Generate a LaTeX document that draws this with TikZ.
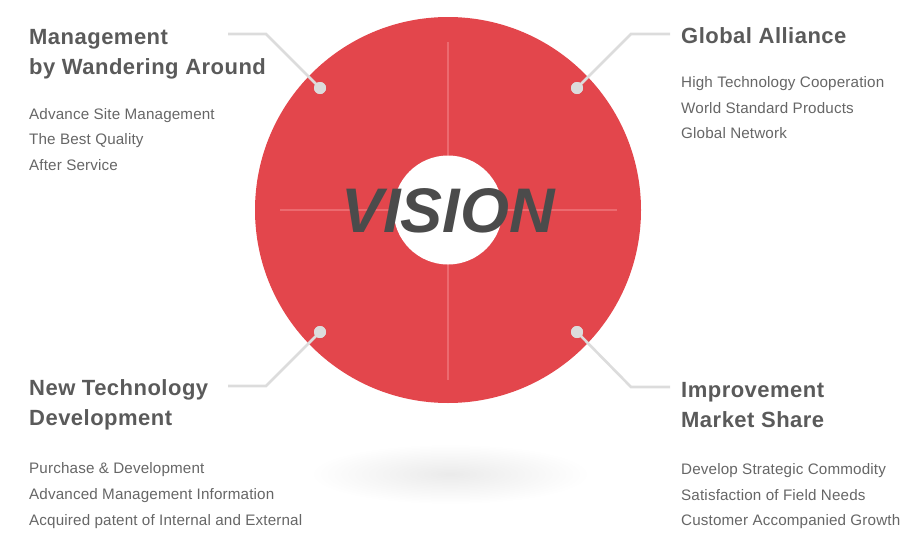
\documentclass[tikz,border=0pt]{standalone}
\usepackage{fontspec}
\setmainfont{Liberation Sans}
\usetikzlibrary{calc}
\definecolor{visred}{HTML}{E3464C}
\definecolor{crossred}{HTML}{EC6A6F}
\definecolor{dotgray}{HTML}{DCDCDC}
\definecolor{titlegray}{HTML}{5A5A5A}
\definecolor{itemgray}{HTML}{666666}
\definecolor{visgray}{HTML}{4B4B4B}
\tikzset{
  title/.style={anchor=base west, inner sep=0pt, font=\fontsize{22}{26}\selectfont\bfseries\addfontfeatures{LetterSpace=2.2}, text=titlegray},
  item/.style={anchor=base west, inner sep=0pt, font=\fontsize{15.2}{18}\selectfont\addfontfeatures{LetterSpace=1}, text=itemgray},
  dot/.style={circle, fill=dotgray, minimum size=12pt, inner sep=0pt},
  conn/.style={draw=dotgray, line width=2.6pt},
  cross/.style={draw=crossred, line width=1.2pt},
}
\begin{document}
\begin{tikzpicture}[x=1pt,y=-1pt]
\useasboundingbox (0,0) rectangle (900,541);
% shadow
\shade[inner color=black!8, outer color=white] (450,474) ellipse [x radius=140, y radius=30];
% big circle
\fill[visred] (448,210) circle [radius=193];
\draw[cross] (448,42) -- (448,380);
\draw[cross] (280,210) -- (617,210);
\node[circle, fill=white, minimum size=109pt, inner sep=0pt] (hole) at (448,210) {};
\node[anchor=base, inner sep=0pt, font=\fontsize{63}{63}\selectfont\bfseries\itshape, text=visgray] (vision) at (448,232) {VISION};
% dots
\node[dot] (d1) at (320,88) {};
\node[dot] (d2) at (577,88) {};
\node[dot] (d3) at (320,332) {};
\node[dot] (d4) at (577,332) {};
\coordinate (c1a) at (266,34); \coordinate (c1b) at (228,34);
\coordinate (c2a) at (631,34); \coordinate (c2b) at (670,34);
\coordinate (c3a) at (266,386); \coordinate (c3b) at (228,386);
\coordinate (c4a) at (631,387); \coordinate (c4b) at (670,387);
\draw[conn] (d1.center) -- (c1a) -- (c1b);
\draw[conn] (d2.center) -- (c2a) -- (c2b);
\draw[conn] (d3.center) -- (c3a) -- (c3b);
\draw[conn] (d4.center) -- (c4a) -- (c4b);
\node[dot] at (d1) {};
\node[dot] at (d2) {};
\node[dot] at (d3) {};
\node[dot] at (d4) {};
% top-left
\node[title] (t1a) at (29,44) {Management};
\node[title] (t1b) at (29,74) {by Wandering Around};
\node[item] (i1a) at (29,119) {Advance Site Management};
\node[item] (i1b) at (29,144) {The Best Quality};
\node[item] (i1c) at (29,170) {After Service};
% top-right
\node[title] (t2a) at (681,43) {Global Alliance};
\node[item] (i2a) at (681,87) {High Technology Cooperation};
\node[item] (i2b) at (681,113) {World Standard Products};
\node[item] (i2c) at (681,138) {Global Network};
% bottom-left
\node[title] (t3a) at (29,395) {New Technology};
\node[title] (t3b) at (29,425) {Development};
\node[item] (i3a) at (29,473) {Purchase \& Development};
\node[item] (i3b) at (29,499) {Advanced Management Information};
\node[item] (i3c) at (29,525) {Acquired patent of Internal and External};
% bottom-right
\node[title] (t4a) at (681,397) {Improvement};
\node[title] (t4b) at (681,427) {Market Share};
\node[item] (i4a) at (681,474) {Develop Strategic Commodity};
\node[item] (i4b) at (681,500) {Satisfaction of Field Needs};
\node[item] (i4c) at (681,525) {Customer Accompanied Growth};
\end{tikzpicture}
\end{document}
